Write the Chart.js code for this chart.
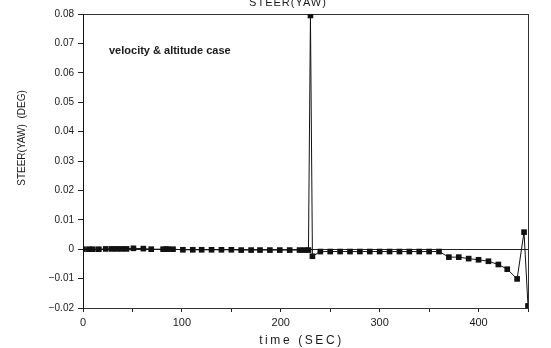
<!DOCTYPE html>
<html>
<head>
<meta charset="utf-8">
<script src="https://cdn.jsdelivr.net/npm/chart.js@4/dist/chart.umd.min.js"></script>
<style>
  html, body { margin: 0; padding: 0; background: #fff; }
  canvas { display: block; }
</style>
</head>
<body>
<canvas id="steerChart" width="551" height="348"></canvas>
<script>
// Texts
const chartTitle = "STEER(YAW)";
const yTitle = "STEER(YAW)  (DEG)";
const xTitle = "time (SEC)";
const caseNote = "velocity & altitude case";

// Data
const timeSec = [0, 6, 10, 16, 23, 29, 34, 39, 44, 51, 61, 69, 81, 84, 86, 91, 101, 111, 120, 130,
    140, 150, 160, 170, 179, 189, 199, 209, 219, 224, 228, 230, 232, 240, 250, 260, 270, 280,
    290, 300, 310, 320, 330, 340, 350, 360, 370, 380, 390, 400, 410, 420, 429, 439, 446, 450];
const yawDeg = [0, 0, 0, 0, 0.0001, 0.0001, 0.0001, 0.0001, 0.0001, 0.0003, 0.0002, 0, 0, 0, 0, 0,
    -0.0002, -0.0002, -0.0002, -0.0002, -0.0002, -0.0002, -0.0003, -0.0003, -0.0003, -0.0003, -0.0003,
    -0.0003, -0.0003, -0.0003, -0.0003, 0.0795, -0.0024, -0.0008, -0.0008, -0.0008, -0.0008, -0.0008,
    -0.0008, -0.0008, -0.0008, -0.0008, -0.0008, -0.0008, -0.0008, -0.0008, -0.0027, -0.0027, -0.0032,
    -0.0036, -0.0041, -0.0052, -0.0068, -0.0101, 0.0058, -0.0193];

// Axis ranges and ticks
const xMin = 0, xMax = 450, xStep = 50, xLabelEvery = 100;
const yMin = -0.02, yMax = 0.08, yStep = 0.01;

const ctx = document.getElementById("steerChart").getContext("2d");
const inkColor = "#1a1a1a";
const fontFamily = '"Liberation Sans", Arial, Helvetica, sans-serif';
const narrowFamily = '"Liberation Sans Narrow", "Liberation Sans", Arial, sans-serif';

// Titles and the note are drawn as plain canvas text
const textPlugin = {
    id: "texts",
    afterDraw(chart) {
        const c = chart.ctx;
        const area = chart.chartArea;
        c.save();
        c.fillStyle = inkColor;
        c.textAlign = "center";
        c.textBaseline = "middle";

        c.font = "11px " + fontFamily;
        c.letterSpacing = "1px";
        c.fillText(chartTitle, 288, 3);

        c.font = "10px " + narrowFamily;
        c.letterSpacing = "0px";
        c.save();
        c.translate(22, 138);
        c.rotate(-Math.PI / 2);
        c.fillText(yTitle, 0, 0);
        c.restore();

        c.font = "12px " + fontFamily;
        c.letterSpacing = "2.6px";
        c.fillText(xTitle, (area.left + area.right) / 2 - 4, 341);

        c.font = "bold 11px " + fontFamily;
        c.letterSpacing = "0px";
        c.textAlign = "left";
        c.fillText(caseNote, 109, 51);
        c.restore();
    }
};

const dashedBorder = { display: true, color: "#333", width: 1, dash: [7, 2] };

new Chart(ctx, {
    type: "line",
    data: {
        datasets: [{
            data: timeSec.map((t, i) => ({ x: t, y: yawDeg[i] })),
            borderColor: "#111",
            borderWidth: 1,
            pointStyle: "rect",
            pointRadius: 4,
            pointBackgroundColor: "#111",
            pointBorderColor: "#111",
            pointBorderWidth: 0,
            tension: 0,
            fill: false
        }]
    },
    options: {
        responsive: false,
        animation: false,
        layout: { padding: 0 },
        plugins: {
            legend: { display: false },
            tooltip: { enabled: false },
            title: { display: false }
        },
        scales: {
            x: {
                type: "linear",
                position: "bottom",
                min: xMin,
                max: xMax,
                afterFit: s => { s.height = 40; },
                ticks: {
                    stepSize: xStep,
                    autoSkip: false,
                    maxRotation: 0,
                    padding: 4,
                    color: inkColor,
                    font: { family: fontFamily, size: 11 },
                    callback: v => (v % xLabelEvery === 0 ? String(v) : "")
                },
                grid: { drawOnChartArea: false, tickLength: 4, color: "#222", tickColor: "#222" },
                border: dashedBorder
            },
            x2: {
                type: "linear",
                position: "top",
                min: xMin,
                max: xMax,
                afterFit: s => { s.height = 14; },
                ticks: { display: false },
                grid: { display: false },
                border: dashedBorder
            },
            y: {
                type: "linear",
                position: "left",
                min: yMin,
                max: yMax,
                afterFit: s => { s.width = 83; },
                ticks: {
                    stepSize: yStep,
                    padding: 4,
                    color: inkColor,
                    font: { family: fontFamily, size: 10 },
                    callback: v => {
                        if (Math.abs(v) < 1e-9) return "0";
                        return v.toFixed(2).replace("-", "\u2212");
                    }
                },
                grid: {
                    drawOnChartArea: true,
                    tickLength: 5,
                    tickColor: "#222",
                    color: c => (c.tick && Math.abs(c.tick.value) < 1e-9 ? "#222" : "rgba(0,0,0,0)")
                },
                border: { display: true, color: "#111", width: 1 }
            },
            y2: {
                type: "linear",
                position: "right",
                min: yMin,
                max: yMax,
                afterFit: s => { s.width = 23; },
                ticks: { display: false },
                grid: { display: false },
                border: dashedBorder
            }
        }
    },
    plugins: [textPlugin]
});
</script>
</body>
</html>
